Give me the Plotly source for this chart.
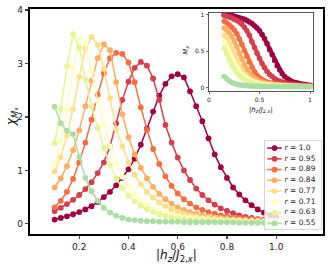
import plotly.graph_objects as go

# ---------------- data ----------------
r_labels = ["1.0", "0.95", "0.89", "0.84", "0.77", "0.71", "0.63", "0.55"]
colors = ["#9e0142", "#d53e4f", "#f46d43", "#fdae61", "#fee08b", "#ffffbf", "#e6f598", "#abdda4"]

hz = [0.1, 0.125, 0.15, 0.175, 0.2, 0.225, 0.25, 0.275, 0.3, 0.325, 0.35, 0.375,
      0.4, 0.425, 0.45, 0.475, 0.5, 0.525, 0.55, 0.575, 0.6, 0.625, 0.65, 0.675,
      0.7, 0.725, 0.75, 0.775, 0.8, 0.825, 0.85, 0.875, 0.9, 0.925, 0.95, 0.975, 1.0]

chi_100 = [0.08, 0.11, 0.14, 0.18, 0.22, 0.27, 0.33, 0.41, 0.50, 0.60, 0.72, 0.86, 1.02, 1.22, 1.48, 1.78, 2.10, 2.40, 2.62, 2.76, 2.80, 2.74, 2.48, 2.20, 1.92, 1.60, 1.30, 1.06, 0.86, 0.68, 0.55, 0.44, 0.35, 0.27, 0.21, 0.16, 0.12]
chi_095 = [0.24, 0.30, 0.37, 0.45, 0.54, 0.65, 0.78, 0.95, 1.15, 1.45, 1.88, 2.32, 2.66, 2.92, 3.03, 2.96, 2.72, 2.32, 1.85, 1.52, 1.24, 1.00, 0.82, 0.66, 0.54, 0.44, 0.36, 0.29, 0.24, 0.20, 0.16, 0.13, 0.11, 0.09, 0.08, 0.07, 0.06]
chi_089 = [0.31, 0.43, 0.60, 0.84, 1.15, 1.52, 1.95, 2.42, 2.82, 3.10, 3.20, 3.18, 3.02, 2.65, 2.18, 1.76, 1.40, 1.12, 0.89, 0.71, 0.57, 0.46, 0.38, 0.31, 0.26, 0.22, 0.19, 0.16, 0.14, 0.12, 0.11, 0.10, 0.09, 0.08, 0.07, 0.06, 0.06]
chi_084 = [0.68, 0.85, 1.08, 1.38, 1.75, 2.20, 2.68, 3.10, 3.36, 3.25, 2.65, 2.05, 1.62, 1.30, 1.05, 0.85, 0.69, 0.56, 0.46, 0.38, 0.31, 0.26, 0.22, 0.19, 0.16, 0.14, 0.12, 0.11, 0.10, 0.09, 0.08, 0.07, 0.07, 0.06, 0.06, 0.05, 0.05]
chi_077 = [0.98, 1.25, 1.65, 2.15, 2.75, 3.28, 3.50, 3.35, 2.90, 2.35, 1.78, 1.45, 1.15, 0.92, 0.74, 0.60, 0.49, 0.40, 0.33, 0.27, 0.23, 0.19, 0.16, 0.14, 0.12, 0.11, 0.10, 0.09, 0.08, 0.07, 0.07, 0.06, 0.06, 0.05, 0.05, 0.05, 0.05]
chi_071 = [1.13, 1.55, 2.15, 2.90, 3.48, 3.38, 2.85, 2.30, 1.85, 1.45, 1.13, 0.88, 0.69, 0.55, 0.44, 0.35, 0.29, 0.24, 0.20, 0.17, 0.14, 0.12, 0.11, 0.10, 0.09, 0.08, 0.07, 0.07, 0.06, 0.06, 0.05, 0.05, 0.05, 0.05, 0.04, 0.04, 0.04]
chi_063 = [1.51, 2.15, 2.95, 3.55, 3.30, 2.70, 2.20, 1.80, 1.42, 1.10, 0.85, 0.67, 0.53, 0.42, 0.34, 0.27, 0.22, 0.18, 0.15, 0.12, 0.10, 0.09, 0.08, 0.07, 0.06, 0.06, 0.05, 0.05, 0.05, 0.04, 0.04, 0.04, 0.04, 0.03, 0.03, 0.03, 0.03]
chi_055 = [2.19, 1.88, 1.74, 1.68, 1.25, 0.86, 0.61, 0.43, 0.30, 0.21, 0.15, 0.11, 0.08, 0.07, 0.06, 0.05, 0.05, 0.04, 0.04, 0.04, 0.04, 0.03, 0.03, 0.03, 0.03, 0.03, 0.03, 0.03, 0.03, 0.03, 0.02, 0.02, 0.02, 0.02, 0.02, 0.02, 0.02]

hz_inset = [0.15, 0.175, 0.2, 0.225, 0.25, 0.275, 0.3, 0.325, 0.35, 0.375, 0.4, 0.425,
            0.45, 0.475, 0.5, 0.525, 0.55, 0.575, 0.6, 0.625, 0.65, 0.675, 0.7, 0.725,
            0.75, 0.775, 0.8, 0.825, 0.85, 0.875, 0.9, 0.925, 0.95, 0.975, 1.0]

m_100 = [1.00, 1.00, 0.99, 0.99, 0.98, 0.97, 0.96, 0.95, 0.94, 0.92, 0.90, 0.88, 0.85, 0.82, 0.78, 0.73, 0.67, 0.60, 0.52, 0.45, 0.37, 0.30, 0.24, 0.19, 0.15, 0.12, 0.10, 0.08, 0.07, 0.06, 0.05, 0.045, 0.04, 0.035, 0.03]
m_095 = [0.99, 0.98, 0.97, 0.96, 0.94, 0.92, 0.90, 0.87, 0.83, 0.78, 0.72, 0.63, 0.55, 0.47, 0.40, 0.33, 0.27, 0.22, 0.18, 0.15, 0.12, 0.10, 0.085, 0.075, 0.065, 0.055, 0.05, 0.045, 0.04, 0.035, 0.03, 0.03, 0.025, 0.025, 0.02]
m_089 = [0.91, 0.89, 0.86, 0.83, 0.79, 0.74, 0.67, 0.59, 0.51, 0.43, 0.35, 0.28, 0.22, 0.17, 0.135, 0.11, 0.09, 0.075, 0.065, 0.055, 0.05, 0.045, 0.04, 0.037, 0.034, 0.03, 0.028, 0.026, 0.024, 0.022, 0.02, 0.02, 0.018, 0.017, 0.016]
m_084 = [0.82, 0.79, 0.75, 0.70, 0.64, 0.56, 0.47, 0.39, 0.31, 0.25, 0.20, 0.16, 0.13, 0.105, 0.09, 0.075, 0.065, 0.055, 0.05, 0.045, 0.04, 0.036, 0.033, 0.03, 0.028, 0.026, 0.024, 0.022, 0.02, 0.019, 0.018, 0.017, 0.016, 0.015, 0.014]
m_077 = [0.72, 0.67, 0.61, 0.53, 0.45, 0.37, 0.30, 0.24, 0.19, 0.155, 0.125, 0.10, 0.085, 0.07, 0.06, 0.05, 0.045, 0.04, 0.035, 0.032, 0.029, 0.027, 0.025, 0.023, 0.021, 0.02, 0.019, 0.018, 0.017, 0.016, 0.015, 0.014, 0.014, 0.013, 0.012]
m_071 = [0.63, 0.56, 0.48, 0.40, 0.33, 0.27, 0.22, 0.18, 0.145, 0.12, 0.10, 0.083, 0.07, 0.06, 0.052, 0.045, 0.04, 0.036, 0.032, 0.029, 0.026, 0.024, 0.022, 0.02, 0.019, 0.018, 0.017, 0.016, 0.015, 0.014, 0.013, 0.013, 0.012, 0.012, 0.011]
m_063 = [0.54, 0.46, 0.38, 0.31, 0.25, 0.20, 0.165, 0.135, 0.11, 0.09, 0.075, 0.064, 0.055, 0.048, 0.042, 0.037, 0.033, 0.03, 0.027, 0.025, 0.023, 0.021, 0.02, 0.018, 0.017, 0.016, 0.015, 0.014, 0.014, 0.013, 0.012, 0.012, 0.011, 0.011, 0.01]
m_055 = [0.15, 0.12, 0.09, 0.07, 0.055, 0.045, 0.038, 0.032, 0.028, 0.025, 0.022, 0.02, 0.018, 0.017, 0.016, 0.015, 0.014, 0.013, 0.013, 0.012, 0.012, 0.011, 0.011, 0.011, 0.01, 0.01, 0.01, 0.01, 0.01, 0.01, 0.01, 0.01, 0.01, 0.01, 0.01]

x_ticks = [0.2, 0.4, 0.6, 0.8, 1.0]
x_ticktext = ["0.2", "0.4", "0.6", "0.8", "1.0"]
y_ticks = [0, 1, 2, 3, 4]
inset_ticks = [0, 0.5, 1]
inset_ticktext = ["0", "0.5", "1"]

chi_series = [chi_100, chi_095, chi_089, chi_084, chi_077, chi_071, chi_063, chi_055]
m_series = [m_100, m_095, m_089, m_084, m_077, m_071, m_063, m_055]

FONT = "DejaVu Sans"
fig = go.Figure()

# main curves
for lab, col, ys in zip(r_labels, colors, chi_series):
    fig.add_trace(go.Scatter(x=hz, y=ys, mode="lines+markers",
                             line=dict(color=col, width=1.5),
                             marker=dict(color=col, size=5.8),
                             showlegend=False, xaxis="x", yaxis="y"))

# inset curves
for lab, col, ys in zip(r_labels, colors, m_series):
    fig.add_trace(go.Scatter(x=hz_inset, y=ys, mode="lines+markers",
                             line=dict(color=col, width=4),
                             marker=dict(color=col, size=5.5),
                             showlegend=False, xaxis="x2", yaxis="y2"))

# custom compact legend drawn in its own axes
for i, (lab, col) in enumerate(zip(r_labels, colors)):
    fig.add_trace(go.Scatter(x=[0.04, 0.30], y=[i, i], mode="lines",
                             line=dict(color=col, width=1.5), showlegend=False,
                             xaxis="x3", yaxis="y3", hoverinfo="skip"))
    fig.add_trace(go.Scatter(x=[0.17], y=[i], mode="markers",
                             marker=dict(color=col, size=5.8), showlegend=False,
                             xaxis="x3", yaxis="y3", hoverinfo="skip"))
    fig.add_trace(go.Scatter(x=[0.35], y=[i], mode="text",
                             text=["<i>r</i> = " + lab], textposition="middle right",
                             textfont=dict(family=FONT, size=7.5, color="#222"),
                             showlegend=False, xaxis="x3", yaxis="y3", hoverinfo="skip"))

axis_common = dict(showgrid=False, zeroline=False, showline=True, mirror=True,
                   ticks="outside", automargin=False)

fig.update_layout(
    width=332, height=268, autosize=False,
    margin=dict(l=30, r=9, t=9, b=34, autoexpand=False),
    paper_bgcolor="white", plot_bgcolor="rgba(255,255,255,0.8)",
    font=dict(family=FONT, color="#222"),
    xaxis=dict(domain=[0, 1], range=[0, 1.19], tickvals=x_ticks, ticktext=x_ticktext,
               linecolor="black", linewidth=1.6, ticklen=3.5, tickwidth=1.2,
               tickfont=dict(size=9), anchor="y", **axis_common),
    yaxis=dict(domain=[0, 1], range=[-0.19, 4.02], tickvals=y_ticks,
               linecolor="black", linewidth=1.6, ticklen=3.5, tickwidth=1.2,
               tickfont=dict(size=9), anchor="x", **axis_common),
    xaxis2=dict(domain=[0.611, 0.966], range=[0, 1.03], tickvals=inset_ticks,
                ticktext=inset_ticktext, linecolor="#444", linewidth=0.9,
                ticklen=2.5, tickwidth=0.8, tickfont=dict(size=6), anchor="y2",
                **axis_common),
    yaxis2=dict(domain=[0.636, 0.982], range=[-0.047, 1.024], tickvals=inset_ticks,
                ticktext=inset_ticktext, linecolor="#444", linewidth=0.9,
                ticklen=2.5, tickwidth=0.8, tickfont=dict(size=6), anchor="x2",
                **axis_common),
    xaxis3=dict(domain=[0.802, 0.993], range=[0, 1], showgrid=False, zeroline=False,
                showline=True, mirror=True, linecolor="#cccccc", linewidth=0.8,
                showticklabels=False, ticks="", anchor="y3", automargin=False),
    yaxis3=dict(domain=[0.022, 0.413], range=[7.53, -0.65], showgrid=False, zeroline=False,
                showline=True, mirror=True, linecolor="#cccccc", linewidth=0.8,
                showticklabels=False, ticks="", anchor="x3", automargin=False),
    annotations=[
        dict(text="|<i>h</i><sub><i>z</i></sub>/<i>J</i><sub>2,<i>x</i></sub>|",
             xref="paper", yref="paper", x=0.5, y=-0.098, xanchor="center",
             yanchor="middle", showarrow=False, font=dict(size=12, color="#111")),
        dict(text="<i>χ</i><sub><i>M</i>ₓ</sub>",
             xref="paper", yref="paper", x=-0.061, y=0.52, xanchor="center",
             yanchor="middle", textangle=-90, showarrow=False,
             font=dict(size=12, color="#111")),
        dict(text="|<i>h</i><sub><i>z</i></sub>/<i>J</i><sub>2,<i>x</i></sub>|",
             xref="paper", yref="paper", x=0.787, y=0.551, xanchor="center",
             yanchor="middle", showarrow=False, font=dict(size=7, color="#222")),
        dict(text="<i>M</i><sub><i>x</i></sub>",
             xref="paper", yref="paper", x=0.532, y=0.818, xanchor="center",
             yanchor="middle", textangle=-90, showarrow=False,
             font=dict(size=7, color="#222")),
    ],
)

fig.write_html("out.html", config={"displayModeBar": False, "staticPlot": True},
               post_script="document.body.style.margin='0';document.body.style.overflow='hidden';")
